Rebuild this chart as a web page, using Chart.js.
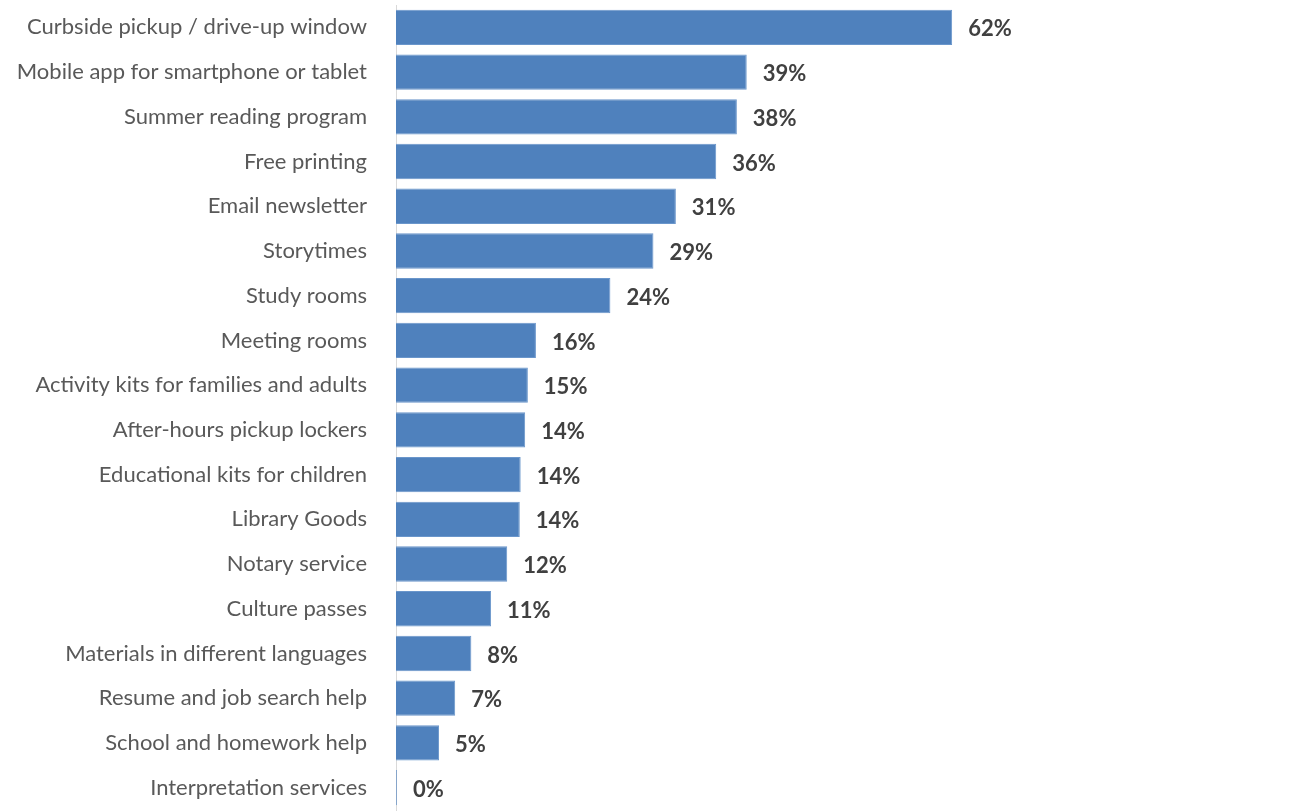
<!DOCTYPE html>
<html>
<head>
<meta charset="utf-8">
<script src="https://cdn.jsdelivr.net/npm/chart.js@4.4.1/dist/chart.umd.min.js"></script>
<style>
    html, body {
        margin: 0;
        padding: 0;
        background: #ffffff;
    }
</style>
</head>
<body>
<canvas id="chart" width="1293" height="811"></canvas>
<script>
const categories = [
    "Curbside pickup / drive-up window",
    "Mobile app for smartphone or tablet",
    "Summer reading program",
    "Free printing",
    "Email newsletter",
    "Storytimes",
    "Study rooms",
    "Meeting rooms",
    "Activity kits for families and adults",
    "After-hours pickup lockers",
    "Educational kits for children",
    "Library Goods",
    "Notary service",
    "Culture passes",
    "Materials in different languages",
    "Resume and job search help",
    "School and homework help",
    "Interpretation services"
];

// percent of respondents
const shares = [
    62, 39.1, 38, 35.7, 31.2, 28.7, 23.9, 15.6, 14.7,
    14.4, 13.9, 13.8, 12.4, 10.6, 8.4, 6.6, 4.8, 0.1
];

const barLabels = {
    id: "barLabels",
    afterDatasetsDraw(chart) {
        const ctx = chart.ctx;
        const meta = chart.getDatasetMeta(0);
        ctx.save();
        ctx.font = "bold 22px Lato";
        ctx.fillStyle = "#404040";
        ctx.textAlign = "left";
        ctx.textBaseline = "middle";
        meta.data.forEach((bar, i) => {
            ctx.fillText(Math.round(shares[i]) + "%", bar.x + 16, bar.y + 2);
        });
        ctx.restore();
    }
};

new Chart(document.getElementById("chart"), {
    type: "bar",

    data: {
        labels: categories,
        datasets: [
            {
                data: shares,
                backgroundColor: "#4f81bd",
                borderColor: "#6a96cb",
                borderWidth: 1,
                categoryPercentage: 1,
                barPercentage: 0.79
            }
        ]
    },

    options: {
        indexAxis: "y",
        responsive: false,
        animation: false,

        layout: {
            padding: { top: 5, bottom: 1, left: 0, right: 0 }
        },

        plugins: {
            legend: { display: false },
            tooltip: { enabled: false }
        },

        scales: {
            x: {
                display: false,
                min: 0,
                max: 100
            },

            y: {
                grid: { display: false, drawTicks: false },
                border: { display: true, color: "#d9d9d9", width: 1 },
                ticks: {
                    color: "#595959",
                    padding: 29,
                    font: { family: "Lato", size: 22 }
                },
                afterFit(scale) {
                    scale.width = 396;
                    scale.paddingTop = 0;
                    scale.paddingBottom = 0;
                }
            }
        }
    },

    plugins: [barLabels]
});
</script>
</body>
</html>
